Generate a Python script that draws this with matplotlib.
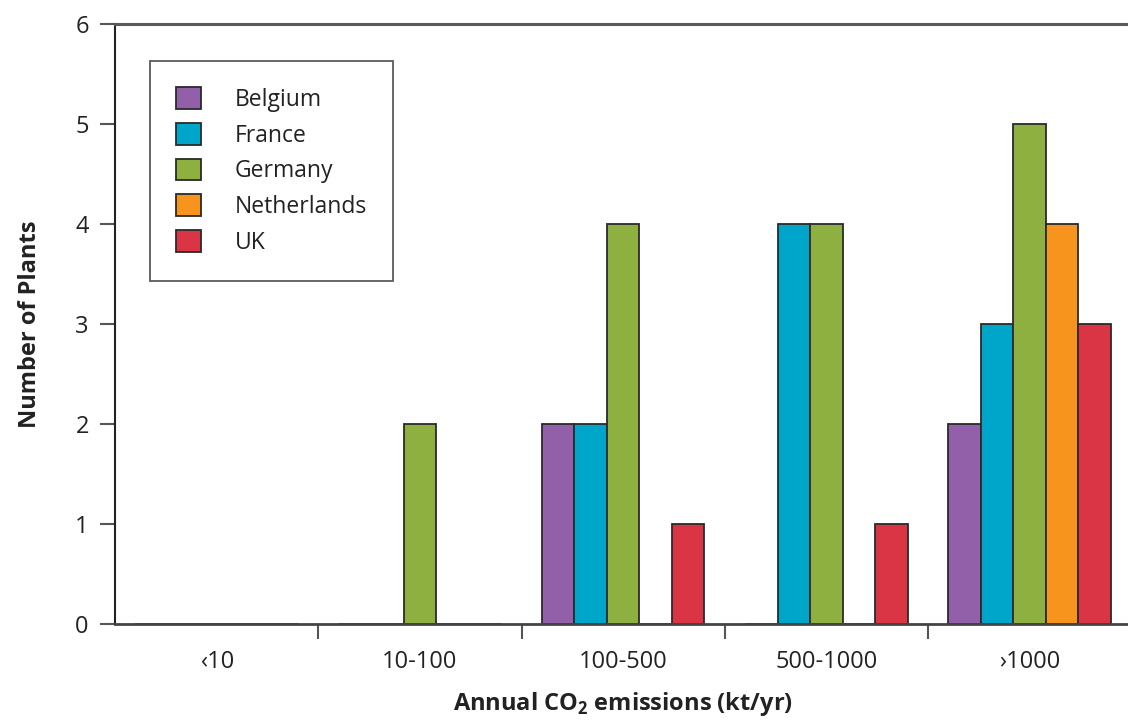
import numpy as np
import matplotlib
matplotlib.use('Agg')
import matplotlib.pyplot as plt

plt.rcParams['font.family'] = ['Open Sans', 'DejaVu Sans']
plt.rcParams['mathtext.fontset'] = 'custom'
plt.rcParams['mathtext.bf'] = 'Open Sans:bold'
plt.rcParams['mathtext.rm'] = 'Open Sans'

categories = ['\u203910', '10-100', '100-500', '500-1000', '\u203a1000']
countries = ['Belgium', 'France', 'Germany', 'Netherlands', 'UK']
belgium = [0, 0, 2, 0, 2]
france = [0, 0, 2, 4, 3]
germany = [0, 2, 4, 4, 5]
netherlands = [0, 0, 0, 0, 4]
uk = [0, 0, 1, 1, 3]
colors = ['#9160a9', '#00a6c9', '#8db040', '#f7941d', '#d93545']

series = [belgium, france, germany, netherlands, uk]

fig = plt.figure(figsize=(11.28, 7.22), dpi=100)
ax = fig.add_axes([0.1021, 0.1357, 0.9007, 0.8311])

x = np.arange(len(categories))
w = 0.16
for i, (vals, name, col) in enumerate(zip(series, countries, colors)):
    ax.bar(x + (i - 2) * w, vals, w, color=col, edgecolor='#2a2a2a',
           linewidth=1.3, label=name)

ax.set_xlim(-0.5, 4.5)
ax.set_ylim(0, 6)
ax.set_yticks(range(7))
ax.set_xticks(x)
ax.set_xticklabels(categories)
ax.set_xticks(x[:-1] + 0.5, minor=True)

ax.tick_params(axis='x', which='major', length=0, pad=19, labelsize=17, labelcolor='#222222')
ax.tick_params(axis='x', which='minor', length=11, width=1.5, color='#555555', direction='out')
ax.tick_params(axis='y', length=11, width=1.5, color='#555555', direction='out', labelsize=17,
               labelcolor='#222222', pad=8)

ax.spines['right'].set_visible(False)
ax.spines['top'].set_color('#5a5a5a')
ax.spines['top'].set_linewidth(2.2)
ax.spines['bottom'].set_color('#444444')
ax.spines['bottom'].set_linewidth(2)
ax.spines['left'].set_color('#222222')
ax.spines['left'].set_linewidth(1.5)

ax.set_ylabel('Number of Plants', fontsize=17, fontweight='bold', labelpad=24, color='#222222')
ax.set_xlabel(r'Annual CO$_{\mathbf{2}}$ emissions (kt/yr)', fontsize=17, fontweight='bold',
              labelpad=11, color='#222222')

leg = ax.legend(loc='upper left', bbox_to_anchor=(0.034, 0.938), fontsize=16.5,
                frameon=True, fancybox=False, edgecolor='#333333', borderpad=1.13,
                handlelength=1.09, handleheight=1.09, handletextpad=1.48, labelspacing=0.48,
                borderaxespad=0)
leg.get_frame().set_linewidth(1.3)
for t in leg.get_texts():
    t.set_color('#222222')

fig.savefig('out.png', dpi=100)
